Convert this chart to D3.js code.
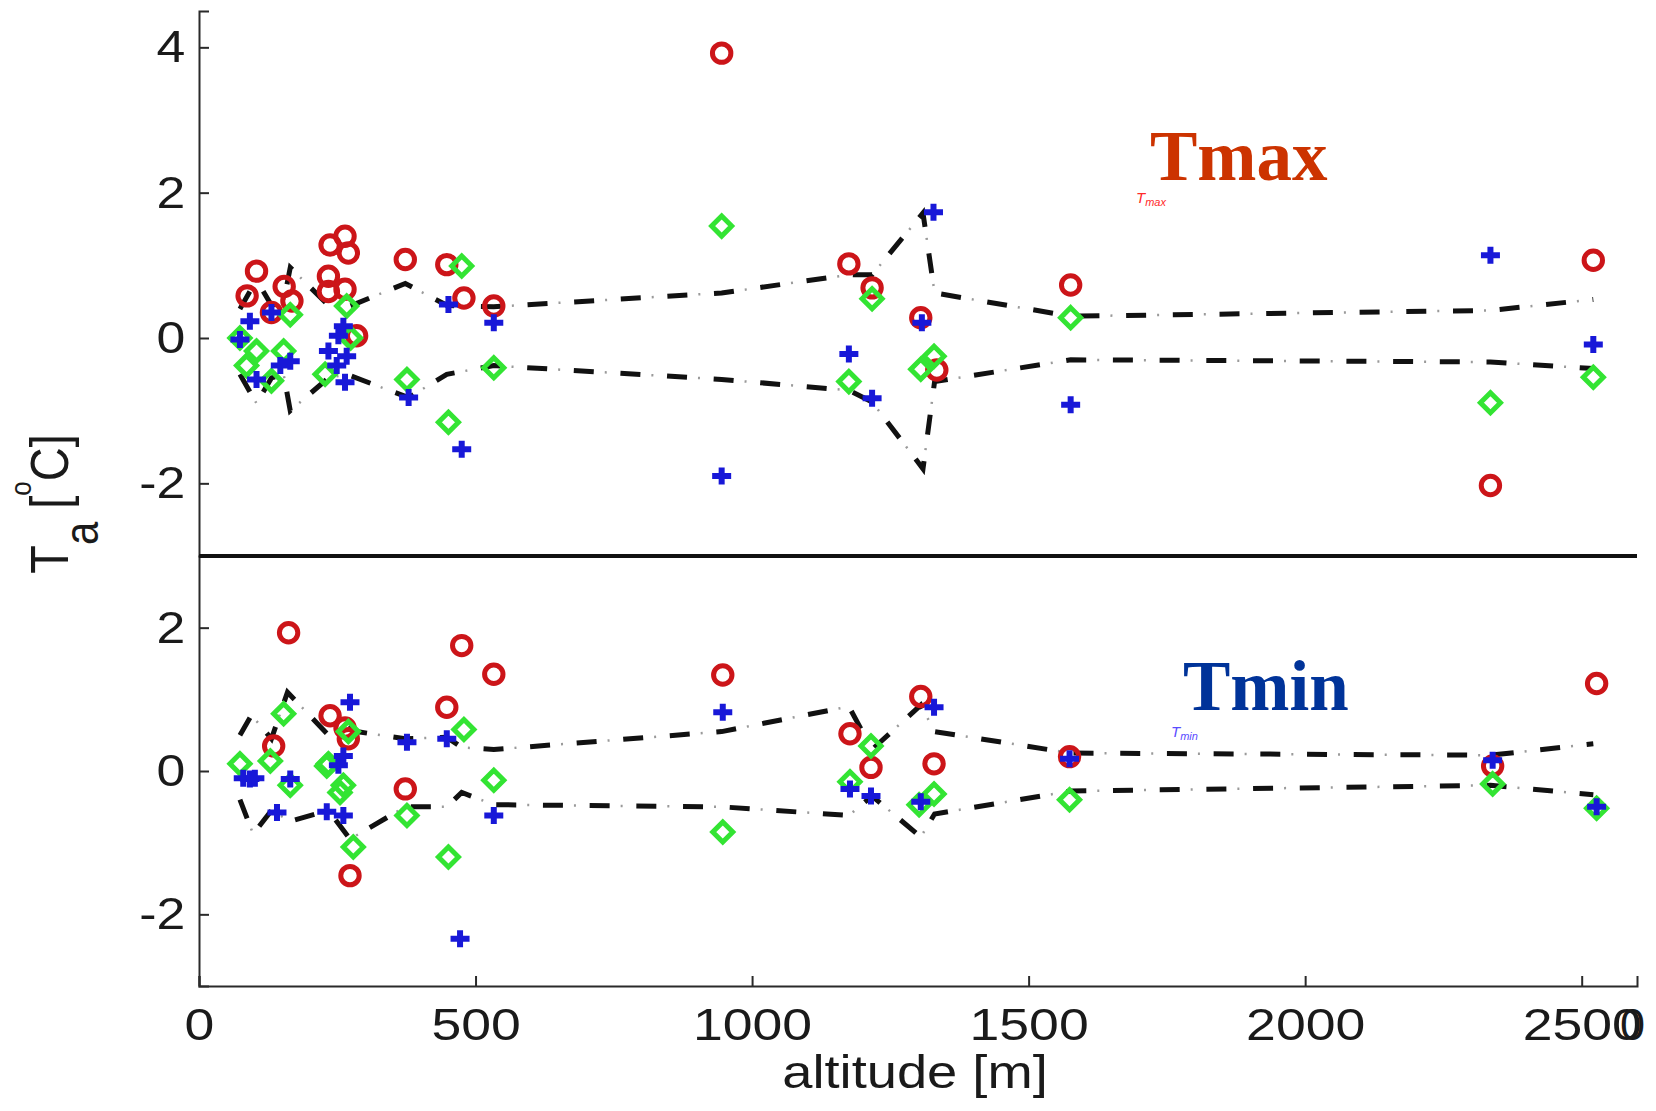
<!DOCTYPE html>
<html><head><meta charset="utf-8">
<script src="https://cdn.jsdelivr.net/npm/d3@7"></script>
<style>
html,body{margin:0;padding:0;background:#fff;}
svg{display:block;}
</style></head>
<body>
<svg id="chart" width="1656" height="1111"></svg>
<script>
// ---------------- DATA ----------------
const xTicks = [0, 500, 1000, 1500, 2000, 2500];
const yTicksTop = [-2, 0, 2, 4];
const yTicksBottom = [-2, 0, 2];

// Tmax panel (altitude m, deviation °C)
const tmaxCircles = [[87,0.58],[104,0.92],[131,0.35],[154,0.71],[168,0.51],[234,0.85],[234,0.64],[237,1.28],[264,1.4],[270,1.17],[264,0.67],[285,0.03],[373,1.08],[448,1.01],[479,0.55],[533,0.44],[945,3.92],[1175,1.02],[1217,0.69],[1305,0.28],[1334,-0.44],[1576,0.73],[2335,-2.03],[2521,1.07]];
const tmaxDiamonds = [[74,0.0],[86,-0.38],[104,-0.18],[131,-0.59],[153,-0.18],[165,0.32],[228,-0.5],[267,0.44],[274,0.0],[376,-0.57],[451,-1.16],[475,0.99],[533,-0.41],[945,1.54],[1175,-0.6],[1217,0.54],[1305,-0.43],[1329,-0.25],[1576,0.28],[2335,-0.89],[2521,-0.54]];
const tmaxPluses = [[74,-0.02],[92,0.23],[104,-0.57],[131,0.35],[147,-0.38],[165,-0.32],[234,-0.18],[249,-0.38],[252,0.03],[261,0.16],[264,-0.61],[267,-0.25],[379,-0.82],[451,0.46],[475,-1.53],[533,0.21],[945,-1.9],[1175,-0.22],[1217,-0.83],[1307,0.21],[1328,1.73],[1576,-0.92],[2335,1.14],[2521,-0.09]];
const tmaxEnvUpper = [[74,0.4],[104,0.8],[131,0.45],[153,0.5],[165,0.97],[234,0.45],[267,0.42],[373,0.75],[448,0.45],[475,0.44],[533,0.43],[945,0.62],[1175,0.87],[1217,0.87],[1309,1.72],[1330,0.62],[1576,0.3],[2335,0.38],[2521,0.53]];
const tmaxEnvLower = [[74,-0.5],[104,-0.9],[131,-0.55],[153,-0.5],[165,-1.0],[234,-0.55],[267,-0.5],[379,-0.82],[448,-0.5],[533,-0.38],[945,-0.57],[1175,-0.72],[1217,-0.88],[1309,-1.8],[1330,-0.6],[1576,-0.3],[2335,-0.33],[2521,-0.42]];

// Tmin panel
const tminCircles = [[135,0.35],[162,1.93],[237,0.77],[264,0.6],[270,0.45],[273,-1.46],[373,-0.25],[448,0.89],[475,1.75],[533,1.35],[947,1.34],[1177,0.52],[1215,0.05],[1305,1.04],[1329,0.1],[1574,0.2],[2339,0.07],[2527,1.22]];
const tminDiamonds = [[74,0.1],[129,0.14],[153,0.8],[165,-0.2],[234,0.1],[231,0.07],[255,-0.3],[261,-0.2],[270,0.55],[279,-1.06],[376,-0.62],[451,-1.2],[479,0.58],[533,-0.13],[947,-0.85],[1177,-0.15],[1215,0.35],[1302,-0.47],[1329,-0.32],[1574,-0.4],[2339,-0.18],[2527,-0.52]];
const tminPluses = [[80,-0.1],[92,-0.11],[101,-0.1],[141,-0.58],[165,-0.11],[231,-0.57],[252,0.08],[261,0.21],[261,-0.62],[273,0.96],[376,0.4],[448,0.45],[472,-2.34],[533,-0.62],[947,0.82],[1177,-0.25],[1215,-0.35],[1305,-0.43],[1329,0.89],[1574,0.17],[2339,0.15],[2527,-0.5]];
const tminEnvUpper = [[74,0.5],[95,0.78],[131,0.45],[160,1.1],[234,0.5],[270,0.65],[285,0.55],[373,0.45],[448,0.47],[475,0.33],[533,0.3],[945,0.55],[1175,0.9],[1217,0.3],[1305,0.92],[1330,0.55],[1576,0.25],[2335,0.22],[2521,0.38]];
const tminEnvLower = [[74,-0.4],[98,-0.88],[131,-0.55],[165,-0.7],[234,-0.55],[273,-0.95],[373,-0.5],[448,-0.5],[475,-0.3],[533,-0.47],[945,-0.5],[1175,-0.62],[1217,-0.35],[1305,-0.92],[1330,-0.6],[1576,-0.28],[2335,-0.2],[2521,-0.33]];

// ---------------- CHART ----------------
const svg = d3.select("#chart");
const FONT = "'Liberation Sans', Arial, Helvetica, sans-serif";
const x = d3.scaleLinear().domain([0, 2600]).range([199, 1637]);
const yTop = d3.scaleLinear().domain([-3, 4.5]).range([556, 11]);
const yBot = d3.scaleLinear().domain([-3, 3]).range([986, 556]);

function styleAxis(g, sx) {
  g.select(".domain").attr("stroke", "#2a2a2a").attr("stroke-width", 2);
  g.selectAll(".tick line").attr("stroke", "#2a2a2a").attr("stroke-width", 2);
  g.selectAll(".tick text").attr("fill", "#1a1a1a").style("font-family", FONT).style("font-size", "45px")
    .attr("transform", `scale(${sx},1)`);
}

// y axes
const gyTop = svg.append("g").attr("transform", `translate(${x(0)},0)`)
  .call(d3.axisLeft(yTop).tickValues(yTicksTop).tickSize(-10).tickSizeOuter(-10).tickPadding(12).tickFormat(d => String(d)));
styleAxis(gyTop, 1.15);
const gyBot = svg.append("g").attr("transform", `translate(${x(0)},0)`)
  .call(d3.axisLeft(yBot).tickValues(yTicksBottom).tickSize(-10).tickSizeOuter(-10).tickPadding(12).tickFormat(d => String(d)));
styleAxis(gyBot, 1.15);

// x axis
const gx = svg.append("g").attr("transform", `translate(0,${yBot(-3)})`)
  .call(d3.axisBottom(x).tickValues(xTicks).tickSize(-10).tickSizeOuter(-10).tickPadding(22).tickFormat(d => String(d)));
styleAxis(gx, 1.19);
// ghost "0" overlapping the last label, as in the original
gx.append("text").attr("x", x(2600) + 8).attr("y", 22).attr("dy", "0.71em")
  .attr("text-anchor", "end").attr("fill", "#1a1a1a")
  .style("font-family", FONT).style("font-size", "45px").text("0");

// separator between panels
svg.append("line").attr("x1", x(0)).attr("x2", x(2600)).attr("y1", yTop(-3)).attr("y2", yTop(-3))
  .attr("stroke", "#111").attr("stroke-width", 4);

// axis labels
svg.append("text").attr("transform", `translate(915,1088) scale(1.18,1)`).attr("text-anchor", "middle")
  .attr("fill", "#1a1a1a").style("font-family", FONT).style("font-size", "46px").text("altitude [m]");

const yl = svg.append("text").attr("transform", `translate(68,504) scale(1.15,1) rotate(-90)`)
  .attr("text-anchor", "middle").attr("fill", "#1a1a1a").style("font-family", FONT).style("font-size", "47px");
yl.append("tspan").text("T");
yl.append("tspan").attr("dy", 26).style("font-size", "42px").text("a");
yl.append("tspan").attr("dy", -26).text(" [");
yl.append("tspan").attr("dy", -32).style("font-size", "26px").text("o");
yl.append("tspan").attr("dy", 32).text("C]");

// envelope lines (dash-dot)
function envelope(data, yS) {
  const line = d3.line().x(d => x(d[0])).y(d => yS(d[1]));
  svg.append("path").datum(data).attr("d", line).attr("fill", "none")
    .attr("stroke", "#111").attr("stroke-width", 5).attr("stroke-dasharray", "20 26.7");
  svg.append("path").datum(data).attr("d", line).attr("fill", "none")
    .attr("stroke", "#9a9a9a").attr("stroke-width", 2.5).attr("stroke-dasharray", "2 44.7").attr("stroke-dashoffset", 15.7);
}
envelope(tmaxEnvUpper, yTop);
envelope(tmaxEnvLower, yTop);
envelope(tminEnvUpper, yBot);
envelope(tminEnvLower, yBot);

// markers
const RED = "#cc1519", GREEN = "#33e433", BLUE = "#1818d8";
function circles(data, yS) {
  svg.append("g").selectAll("circle").data(data).join("circle")
    .attr("cx", d => x(d[0])).attr("cy", d => yS(d[1])).attr("r", 9.2)
    .attr("fill", "none").attr("stroke", RED).attr("stroke-width", 5);
}
function diamonds(data, yS) {
  svg.append("g").selectAll("path").data(data).join("path")
    .attr("transform", d => `translate(${x(d[0])},${yS(d[1])})`)
    .attr("d", "M0,-10L10,0L0,10L-10,0Z")
    .attr("fill", "none").attr("stroke", GREEN).attr("stroke-width", 5).attr("stroke-linejoin", "miter");
}
function pluses(data, yS) {
  svg.append("g").selectAll("path").data(data).join("path")
    .attr("transform", d => `translate(${x(d[0])},${yS(d[1])})`)
    .attr("d", "M-9.5,0H9.5M0,-8.5V8.5")
    .attr("fill", "none").attr("stroke", BLUE).attr("stroke-width", 6);
}
circles(tmaxCircles, yTop); diamonds(tmaxDiamonds, yTop); pluses(tmaxPluses, yTop);
circles(tminCircles, yBot); diamonds(tminDiamonds, yBot); pluses(tminPluses, yBot);

// panel titles
const SERIF = "'Liberation Serif', 'Times New Roman', serif";
svg.append("text").attr("x", 1150).attr("y", 180).attr("fill", "#cc3300")
  .style("font-family", SERIF).style("font-weight", "bold").style("font-size", "71px").text("Tmax");
const smax = svg.append("text").attr("x", 1136).attr("y", 203).attr("fill", "#ff2a2a")
  .style("font-family", FONT).style("font-style", "italic").style("font-size", "15px");
smax.append("tspan").text("T");
smax.append("tspan").attr("dy", 3).style("font-size", "11px").text("max");

svg.append("text").attr("x", 1183).attr("y", 710).attr("fill", "#003399")
  .style("font-family", SERIF).style("font-weight", "bold").style("font-size", "71px").text("Tmin");
const smin = svg.append("text").attr("x", 1171).attr("y", 737).attr("fill", "#5a4cff")
  .style("font-family", FONT).style("font-style", "italic").style("font-size", "15px");
smin.append("tspan").text("T");
smin.append("tspan").attr("dy", 3).style("font-size", "11px").text("min");
</script>
</body></html>
